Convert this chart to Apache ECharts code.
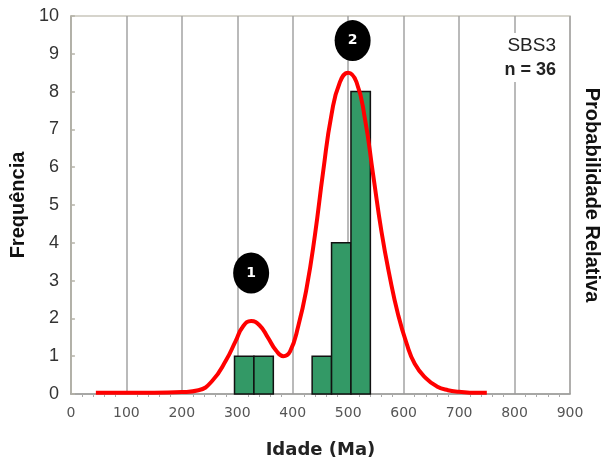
<!DOCTYPE html>
<html>
<head>
<meta charset="utf-8">
<script src="https://cdn.jsdelivr.net/npm/echarts@6/dist/echarts.min.js"></script>
<style>
  html, body { margin: 0; padding: 0; background: #fff; }
  #main { width: 605px; height: 464px; }
</style>
</head>
<body>
<div id="main"></div>
<script>
// histogram bins (Ma) and counts
var binStart = [295, 330, 435, 470, 505];
var binEnd   = [330, 365, 470, 505, 540];
var counts   = [1, 1, 1, 4, 8];

// probability curve [age, value]
var curveAge = [45, 100, 150, 200, 230, 255, 280, 297, 310, 325, 340, 355, 370, 383, 395, 410, 425, 440, 455, 470, 485, 500, 515, 530, 545, 560, 575, 590, 605, 620, 640, 660, 680, 700, 730, 750];
var curveVal = [0.03, 0.03, 0.03, 0.05, 0.1, 0.35, 0.9, 1.4, 1.78, 1.93, 1.82, 1.5, 1.15, 1.0, 1.12, 1.8, 2.8, 4.2, 5.9, 7.4, 8.25, 8.5, 8.25, 7.3, 5.8, 4.3, 3.1, 2.1, 1.35, 0.8, 0.42, 0.2, 0.1, 0.06, 0.03, 0.03];

// peak labels
var peakNames = ['1', '2'];
var peakPos = [[325, 3.2], [508, 9.35]];

var xTicks = [0, 100, 200, 300, 400, 500, 600, 700, 800, 900];

var curveData = curveAge.map(function (a, i) { return [a, curveVal[i]]; });
var barData = binStart.map(function (s, i) { return [s, binEnd[i], counts[i]]; });

var chart = echarts.init(document.getElementById('main'));
chart.setOption({
    animation: false,
    grid: { left: 67, right: 35, top: 16, bottom: 70, show: true, borderColor: '#c9c6bc', borderWidth: 1.5 },
    xAxis: {
        type: 'value', min: 0, max: 900, interval: 100,
        name: 'Idade (Ma)', nameLocation: 'middle', nameGap: 47,
        nameTextStyle: { fontFamily: 'DejaVu Sans', fontWeight: 'bold', fontSize: 18, color: '#222' },
        axisLine: { lineStyle: { color: '#999', width: 1.5 } },
        axisTick: { show: false },
        minorTick: { show: true, splitNumber: 5, length: 3, lineStyle: { color: '#aaa' } },
        splitLine: { show: true, lineStyle: { color: '#a3a3a3', width: 1.5 } },
        axisLabel: { fontFamily: 'DejaVu Sans', fontSize: 14, color: '#555', margin: 12,
            formatter: function (v) { return xTicks.indexOf(v) >= 0 ? String(v) : ''; } }
    },
    yAxis: {
        type: 'value', min: 0, max: 10, interval: 1,
        name: 'Frequência', nameLocation: 'middle', nameGap: 42,
        nameTextStyle: { fontFamily: 'Liberation Sans', fontWeight: 'bold', fontSize: 20, color: '#111' },
        axisLine: { show: true, lineStyle: { color: '#b5b3a8', width: 1.5 } },
        axisTick: { show: true, length: 4, inside: true, lineStyle: { color: '#b5b3a8', width: 1.5 } },
        splitLine: { show: false },
        axisLabel: { fontFamily: 'Liberation Sans', fontSize: 18, color: '#333', margin: 12 }
    },
    series: [
        {
            type: 'custom',
            data: barData,
            encode: { x: [0, 1], y: 2 },
            renderItem: function (params, api) {
                var p0 = api.coord([api.value(0), api.value(2)]);
                var p1 = api.coord([api.value(1), 0]);
                return {
                    type: 'rect',
                    shape: { x: p0[0], y: p0[1], width: p1[0] - p0[0], height: p1[1] - p0[1] },
                    style: { fill: '#339966', stroke: '#111', lineWidth: 1.5 }
                };
            },
            z: 2
        },
        {
            type: 'line',
            data: curveData,
            smooth: true,
            showSymbol: false,
            lineStyle: { color: '#ff0000', width: 4 },
            z: 3
        },
        {
            type: 'scatter',
            data: peakPos.map(function (p, i) { return { value: p, name: peakNames[i] }; }),
            symbol: 'circle',
            symbolSize: [36, 41],
            itemStyle: { color: '#000', opacity: 1 },
            label: { show: true, position: 'inside', formatter: '{b}', color: '#fff', fontWeight: 'bold', fontSize: 14, fontFamily: 'DejaVu Sans' },
            z: 4
        }
    ],
    graphic: [
        { type: 'text', right: 47, top: 33, z: 10, style: { text: 'SBS3', font: '19px "Liberation Sans"', fill: '#222', textAlign: 'right',
            backgroundColor: '#fff', padding: [3, 2, 6, 2] } },
        { type: 'text', right: 47, top: 58, z: 10, style: { text: 'n = 36', font: 'bold 18px "Liberation Sans"', fill: '#222', textAlign: 'right',
            backgroundColor: '#fff', padding: [3, 2, 3, 2] } },
        { type: 'text', x: 592, y: 195, rotation: -Math.PI / 2,
          style: { text: 'Probabilidade Relativa', font: 'bold 20px "Liberation Sans"', fill: '#111', textAlign: 'center', textVerticalAlign: 'middle' } }
    ]
});
</script>
</body>
</html>
